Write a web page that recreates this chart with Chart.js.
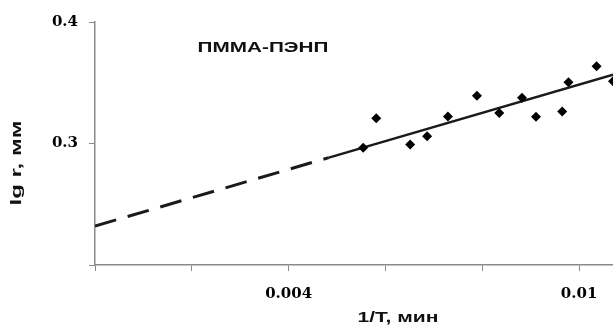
<!DOCTYPE html>
<html>
<head>
<meta charset="utf-8">
<script src="https://cdn.jsdelivr.net/npm/chart.js@4"></script>
<style>
    body { margin: 0; background: #fff; }
    #wrap { width: 613px; height: 329px; }
</style>
</head>
<body>
<div id="wrap"><canvas id="chart" width="613" height="329"></canvas></div>
<script>
// measured points, 1/T vs lg r
const invT = [0.00554, 0.00581, 0.00651, 0.00686, 0.00729, 0.00789, 0.00835, 0.00882, 0.00911, 0.00965, 0.00978, 0.01036, 0.0107];
const lgR = [0.2965, 0.3207, 0.2992, 0.3060, 0.3222, 0.3393, 0.3251, 0.3377, 0.3221, 0.3263, 0.3505, 0.3635, 0.3512];

// fitted line: dashed extrapolation + solid part over the data
const dashX = [0, 0.00483];
const dashY = [0.232, 0.2884];
const solidX = [0.00483, 0.0107];
const solidY = [0.2884, 0.3567];

const xTicks = [0, 0.002, 0.004, 0.006, 0.008, 0.01];
const xLabels = ['', '', '0.004', '', '', '0.01'];
const yTicks = [0.2, 0.3, 0.4];
const yLabels = ['', '0.3', '0.4'];

const seriesName = 'ПММА-ПЭНП';
const xTitle = '1/T, мин';
const yTitle = 'lg r, мм';

function toPoints(xs, ys) {
    return xs.map((x, i) => ({ x: x, y: ys[i] }));
}

function stretchedText(ctx, text, x, y, angle, sx, font) {
    ctx.save();
    ctx.translate(x, y);
    ctx.rotate(angle);
    ctx.scale(sx, 1);
    ctx.font = font;
    ctx.fillStyle = '#111';
    ctx.textAlign = 'center';
    ctx.textBaseline = 'middle';
    ctx.fillText(text, 0, 0);
    ctx.restore();
}

const labelsPlugin = {
    id: 'labels',
    afterDraw(chart) {
        const ctx = chart.ctx;
        const f = 'bold 14px "Liberation Sans", Arial, sans-serif';
        stretchedText(ctx, seriesName, 263, 48, 0, 1.48, f);
        stretchedText(ctx, xTitle, 398, 318, 0, 1.5, f);
        stretchedText(ctx, yTitle, 17, 163, -Math.PI / 2, 1.6, 'bold 15px "Liberation Sans", Arial, sans-serif');
    }
};

const axisColor = '#8a8a8a';
const tickFont = { family: '"DejaVu Serif", serif', size: 15, weight: 'bold' };

new Chart(document.getElementById('chart'), {
    type: 'scatter',
    data: {
        datasets: [
            {
                data: toPoints(invT, lgR),
                pointStyle: 'rectRot',
                pointRadius: 5,
                backgroundColor: '#000',
                borderColor: '#000',
                borderWidth: 0,
                order: 0
            },
            {
                data: toPoints(dashX, dashY),
                showLine: true,
                borderColor: '#1a1a1a',
                borderWidth: 3,
                borderDash: [22, 12],
                pointRadius: 0,
                order: 1
            },
            {
                data: toPoints(solidX, solidY),
                showLine: true,
                borderColor: '#1a1a1a',
                borderWidth: 2.5,
                pointRadius: 0,
                order: 1
            }
        ]
    },
    options: {
        responsive: false,
        animation: false,
        layout: { autoPadding: false, padding: { top: 22, right: 0, left: 0, bottom: 0 } },
        plugins: { legend: { display: false }, tooltip: { enabled: false } },
        scales: {
            x: {
                type: 'linear',
                min: 0,
                max: 0.0107,
                afterBuildTicks: s => { s.ticks = xTicks.map(v => ({ value: v })); },
                afterFit: s => {
                    s.height = 64;
                    s.paddingLeft = 0;
                    s.paddingRight = 0;
                },
                ticks: {
                    autoSkip: false,
                    maxRotation: 0,
                    padding: 14,
                    color: '#000',
                    font: tickFont,
                    callback: v => xLabels[xTicks.indexOf(v)] || ''
                },
                grid: { drawOnChartArea: false, drawTicks: true, tickLength: 6, color: axisColor },
                border: { color: axisColor, width: 1.5 }
            },
            y: {
                min: 0.2,
                max: 0.4,
                afterBuildTicks: s => { s.ticks = yTicks.map(v => ({ value: v })); },
                afterFit: s => {
                    s.width = 95;
                    s.paddingTop = 0;
                    s.paddingBottom = 0;
                },
                ticks: {
                    autoSkip: false,
                    padding: 11,
                    color: '#000',
                    font: tickFont,
                    callback: v => yLabels[yTicks.indexOf(v)] || ''
                },
                grid: { drawOnChartArea: false, drawTicks: true, tickLength: 6, color: axisColor },
                border: { color: axisColor, width: 1.5 }
            }
        }
    },
    plugins: [labelsPlugin]
});
</script>
</body>
</html>
